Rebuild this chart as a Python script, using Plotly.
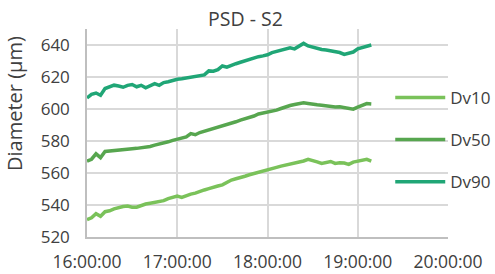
import plotly.graph_objects as go
from datetime import datetime, timedelta

# ---- data ----
minutes = list(range(0, 190, 3))  # minutes after 16:00
dv10 = [530.8, 532.0, 534.6, 533.0, 535.8, 536.4, 537.6, 538.4, 539.1, 539.3,
        538.6, 538.6, 539.9, 540.6, 541.1, 541.6, 542.2, 542.7, 544.0, 544.8,
        545.6, 544.8, 546.0, 546.8, 547.4, 548.6, 549.4, 550.2, 551.2, 551.9,
        552.6, 554.3, 555.6, 556.4, 557.0, 558.0, 558.9, 559.6, 560.5, 561.0,
        561.6, 562.8, 563.5, 564.3, 564.9, 565.5, 566.3, 566.9, 567.5, 568.5,
        568.0, 567.0, 566.0, 566.8, 567.2, 566.0, 566.4, 566.2, 565.4, 566.8,
        567.4, 567.9, 568.5, 567.4]
dv50 = [567.4, 568.6, 572.0, 569.6, 573.5, 573.7, 574.1, 574.4, 574.2, 574.7,
        575.1, 575.4, 575.7, 576.1, 576.6, 577.4, 578.0, 578.8, 579.5, 580.4,
        581.1, 581.4, 582.5, 584.6, 583.9, 585.3, 586.1, 587.0, 587.8, 588.3,
        589.2, 590.3, 591.2, 592.0, 593.0, 593.8, 594.6, 595.6, 596.9, 597.4,
        597.9, 598.4, 599.3, 600.3, 601.4, 602.2, 602.8, 603.5, 603.9, 603.5,
        602.9, 602.6, 602.3, 601.9, 601.5, 601.3, 601.4, 600.9, 600.5, 599.9,
        601.2, 602.4, 603.4, 603.2]
dv90 = [606.9, 609.2, 610.0, 608.6, 612.8, 613.9, 614.9, 614.4, 613.6, 614.8,
        615.3, 613.9, 614.8, 613.2, 614.5, 615.9, 614.8, 616.5, 617.0, 617.9,
        618.6, 618.9, 619.3, 619.8, 620.6, 620.9, 621.3, 623.8, 623.6, 624.6,
        626.9, 626.1, 627.4, 628.3, 629.2, 630.1, 630.9, 632.2, 632.7, 633.2,
        633.9, 635.2, 635.9, 636.8, 637.7, 638.2, 637.6, 639.5, 641.0, 639.4,
        638.6, 637.8, 637.2, 636.9, 636.4, 635.9, 635.3, 634.1, 634.6, 635.6,
        637.6, 638.4, 639.3, 640.0]
series_names = ["Dv10", "Dv50", "Dv90"]
colors = ["#7ac25a", "#57a64f", "#20a676"]
x_tick_labels = ["16:00:00", "17:00:00", "18:00:00", "19:00:00", "20:00:00"]

base = datetime(2020, 1, 1, 16, 0, 0)
times = [base + timedelta(minutes=m) for m in minutes]
tick_vals = [base + timedelta(hours=h) for h in range(5)]

FONT = "Open Sans"
TXT = "#404040"

fig = go.Figure()
for name, vals, col in zip(series_names, [dv10, dv50, dv90], colors):
    fig.add_trace(go.Scatter(x=times, y=vals, mode="lines", name=name,
                             legendgroup=name,
                             line=dict(color=col, width=3.5)))

fig.update_layout(
    width=495, height=274,
    margin=dict(l=87, r=47, t=29, b=37, autoexpand=False),
    paper_bgcolor="white", plot_bgcolor="white",
    font=dict(family=FONT, color=TXT, size=16),
    title=dict(text="PSD - S2", x=0.496, xref="container", xanchor="center",
               y=1 - 19 / 274, yref="container", yanchor="middle",
               font=dict(size=19.5, family=FONT, color=TXT)),
    showlegend=True,
    legend=dict(x=0.84, y=0.755, xanchor="left", yanchor="top",
                bgcolor="rgba(0,0,0,0)", font=dict(size=17, family=FONT, color=TXT),
                tracegroupgap=17, itemwidth=50, traceorder="grouped"),
    xaxis=dict(range=[tick_vals[0], tick_vals[-1]], tickvals=tick_vals,
               ticktext=x_tick_labels, showgrid=True, gridcolor="#d9d9d9",
               gridwidth=1.5, showline=True, linecolor="#bfbfbf", linewidth=1.5,
               ticks="", zeroline=False, ticklabelstandoff=8, automargin=False,
               tickfont=dict(size=17.5, family=FONT, color=TXT)),
    yaxis=dict(range=[520, 650], tickvals=[520, 540, 560, 580, 600, 620, 640],
               showgrid=True, gridcolor="#d9d9d9", gridwidth=1.5,
               showline=True, linecolor="#bfbfbf", linewidth=1.5,
               ticks="", zeroline=False, ticklabelstandoff=12, automargin=False,
               tickfont=dict(size=17, family=FONT, color=TXT)),
    annotations=[dict(text="Diameter (µm)", xref="paper", yref="paper",
                      x=(14 - 87) / 361, y=(237 - 104) / 208, textangle=-90,
                      showarrow=False, xanchor="center", yanchor="middle",
                      font=dict(size=20, family=FONT, color=TXT))],
)

fig.write_html("out.html")
